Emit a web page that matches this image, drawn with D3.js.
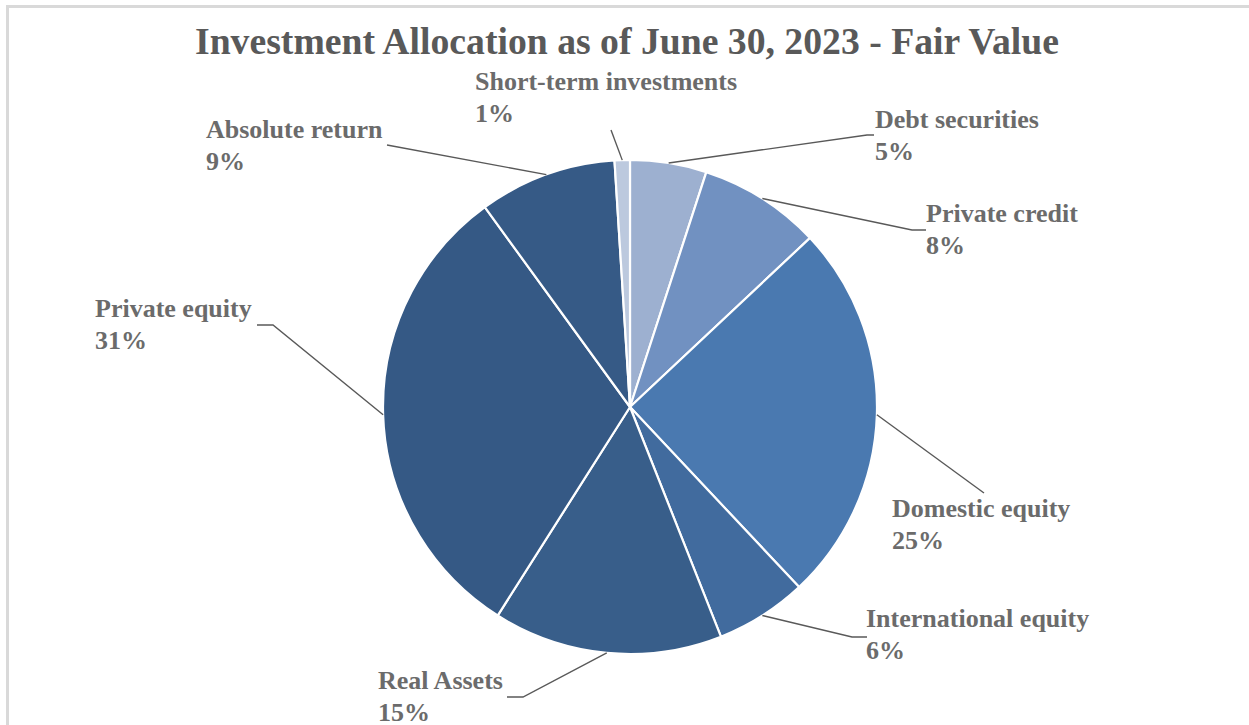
<!DOCTYPE html>
<html>
<head>
<meta charset="utf-8">
<script src="https://cdn.jsdelivr.net/npm/d3@7"></script>
<style>
  html, body { margin: 0; padding: 0; background: #fff; }
  svg { display: block; }
</style>
</head>
<body>
<svg id="chart" width="1249" height="725"></svg>
<script>
// Asset classes, clockwise from 12 o'clock
const categories = [
  "Debt securities",
  "Private credit",
  "Domestic equity",
  "International equity",
  "Real Assets",
  "Private equity",
  "Absolute return",
  "Short-term investments"
];
// Share of total fair value, percent
const shares = [5, 8, 25, 6, 15, 31, 9, 1];
const sliceColors = [
  "#9db0d0", "#7191c1", "#4a79b0", "#416b9e",
  "#385e8a", "#355985", "#365a86", "#bcc9de"
];

const titleText = "Investment Allocation as of June 30, 2023 - Fair Value";

// Label placement: text anchor (left x, first baseline) and leader elbow
const labelLayout = {
  "Debt securities":        { x: 875, y: 128, elbow: [867, 135], end: [874, 135] },
  "Private credit":         { x: 926, y: 222, elbow: [912, 230], end: [926, 230] },
  "Domestic equity":        { x: 892, y: 517, elbow: [984, 493], end: [984, 493] },
  "International equity":   { x: 866, y: 627, elbow: [852, 637], end: [867, 637] },
  "Real Assets":            { x: 378, y: 689, elbow: [523, 697], end: [507, 697] },
  "Private equity":         { x: 95,  y: 317, elbow: [273, 325], end: [257, 325] },
  "Absolute return":        { x: 206, y: 138, elbow: [387, 145], end: [387, 145] },
  "Short-term investments": { x: 475, y: 90,  elbow: [611, 130], end: [611, 130] }
};

const W = 1249, H = 725;
const cx = 630, cy = 407, radius = 247;
const serif = "'Liberation Serif', 'Times New Roman', Times, serif";

const svg = d3.select("#chart");

// Chart area frame
svg.append("rect")
  .attr("x", 7.5).attr("y", 6.5)
  .attr("width", W + 20).attr("height", H + 20)
  .attr("fill", "#fff")
  .attr("stroke", "#d9d9d9")
  .attr("stroke-width", 3);

svg.append("text")
  .attr("x", 627).attr("y", 54)
  .attr("text-anchor", "middle")
  .attr("font-family", serif)
  .attr("font-weight", "bold")
  .attr("font-size", 37.7)
  .attr("fill", "#595959")
  .text(titleText);

const data = categories.map((c, i) => ({ name: c, value: shares[i], color: sliceColors[i] }));

const pie = d3.pie().value(d => d.value).sort(null).startAngle(0).endAngle(2 * Math.PI);
const arcs = pie(data);
const arc = d3.arc().innerRadius(0).outerRadius(radius);

const g = svg.append("g").attr("transform", `translate(${cx},${cy})`);

g.selectAll("path.slice")
  .data(arcs)
  .join("path")
  .attr("class", "slice")
  .attr("d", arc)
  .attr("fill", d => d.data.color)
  .attr("stroke", "#fff")
  .attr("stroke-width", 2.2)
  .attr("stroke-linejoin", "round");

// Leader lines from each slice's outer midpoint to its label
const edgePoint = d => {
  const a = (d.startAngle + d.endAngle) / 2;
  return [cx + radius * Math.sin(a), cy - radius * Math.cos(a)];
};

svg.append("g")
  .selectAll("polyline")
  .data(arcs)
  .join("polyline")
  .attr("points", d => {
    const L = labelLayout[d.data.name];
    const p = edgePoint(d);
    return [p, L.elbow, L.end].map(q => q.join(",")).join(" ");
  })
  .attr("fill", "none")
  .attr("stroke", "#595959")
  .attr("stroke-width", 1.4);

const labels = svg.append("g")
  .selectAll("text")
  .data(arcs)
  .join("text")
  .attr("font-family", serif)
  .attr("font-weight", "bold")
  .attr("font-size", 26)
  .attr("fill", "#6b6b6b")
  .attr("x", d => labelLayout[d.data.name].x)
  .attr("y", d => labelLayout[d.data.name].y);

labels.append("tspan")
  .text(d => d.data.name);
labels.append("tspan")
  .attr("x", d => labelLayout[d.data.name].x)
  .attr("dy", 31.5)
  .text(d => d.data.value + "%");
</script>
</body>
</html>
